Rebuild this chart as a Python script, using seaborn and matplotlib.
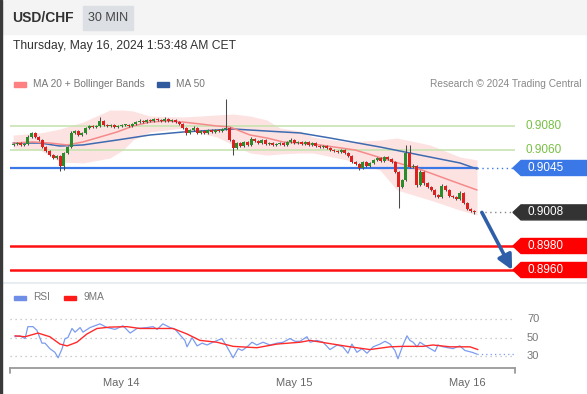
import numpy as np
import pandas as pd
import matplotlib
matplotlib.use("Agg")
import matplotlib.pyplot as plt
from matplotlib.patches import Polygon, Rectangle
from matplotlib.transforms import blended_transform_factory
import seaborn as sns

# ---------------- data ----------------
symbol = "USD/CHF"
timeframe = "30 MIN"
timestamp = "Thursday, May 16, 2024 1:53:48 AM CET"
credit = "Research \u00a9 2024 Trading Central"
day_labels = ["May 14", "May 15", "May 16"]
day_bars = [30, 78, 126]

first_open = 0.90642
closes = [
    0.90650, 0.90658, 0.90642, 0.90650, 0.90708, 0.90742, 0.90708, 0.90683, 0.90625, 0.90592,
    0.90558, 0.90533, 0.90550, 0.90467, 0.90575, 0.90625, 0.90742, 0.90758, 0.90725, 0.90742,
    0.90783, 0.90800, 0.90792, 0.90800, 0.90842, 0.90808, 0.90800, 0.90808, 0.90792, 0.90800,
    0.90808, 0.90808, 0.90800, 0.90817, 0.90833, 0.90842, 0.90833, 0.90850, 0.90842, 0.90858,
    0.90850, 0.90842, 0.90858, 0.90842, 0.90850, 0.90833, 0.90817, 0.90783, 0.90742, 0.90767,
    0.90783, 0.90742, 0.90758, 0.90742, 0.90767, 0.90750, 0.90767, 0.90758, 0.90775, 0.90783,
    0.90683, 0.90617, 0.90658, 0.90633, 0.90667, 0.90642, 0.90692, 0.90675, 0.90658, 0.90683,
    0.90650, 0.90658, 0.90642, 0.90650, 0.90658, 0.90642, 0.90667, 0.90683, 0.90658, 0.90667,
    0.90650, 0.90667, 0.90642, 0.90658, 0.90633, 0.90625, 0.90633, 0.90617, 0.90600, 0.90592,
    0.90583, 0.90600, 0.90575, 0.90550, 0.90500, 0.90483, 0.90450, 0.90500, 0.90467, 0.90492,
    0.90517, 0.90533, 0.90508, 0.90542, 0.90525, 0.90500, 0.90417, 0.90292, 0.90350, 0.90575,
    0.90458, 0.90467, 0.90308, 0.90417, 0.90325, 0.90292, 0.90267, 0.90225, 0.90208, 0.90300,
    0.90267, 0.90217, 0.90208, 0.90192, 0.90242, 0.90158, 0.90108, 0.90092, 0.90080,
]
upper_wick_pips = [
    1.0, 1.0, 1.0, 0.8, 1.5, 1.2, 1.0, 1.0, 0.8, 1.0,
    1.0, 0.8, 1.0, 1.0, 1.0, 1.2, 1.5, 1.0, 1.0, 1.0,
    1.2, 1.0, 1.0, 1.0, 3.0, 1.0, 1.0, 1.0, 1.0, 1.0,
    1.0, 1.0, 1.0, 1.0, 1.0, 1.5, 1.0, 1.0, 1.0, 1.0,
    1.0, 1.0, 1.5, 1.0, 1.0, 1.0, 1.0, 1.0, 1.0, 1.0,
    1.5, 1.0, 1.0, 1.0, 1.0, 1.0, 1.0, 1.0, 1.0, 24.0,
    1.0, 1.0, 1.0, 1.0, 1.0, 1.0, 1.5, 1.0, 1.0, 1.0,
    1.0, 1.0, 1.0, 1.0, 1.0, 1.0, 1.0, 1.5, 1.0, 1.0,
    1.0, 1.0, 1.0, 1.0, 1.0, 1.0, 1.0, 1.0, 1.0, 1.0,
    1.0, 1.0, 1.0, 1.0, 1.0, 1.0, 1.0, 1.0, 1.0, 1.0,
    1.0, 1.0, 1.0, 1.0, 1.0, 1.0, 1.0, 1.0, 1.0, 6.7,
    6.7, 1.5, 1.0, 1.5, 1.0, 1.0, 1.0, 1.0, 1.0, 1.5,
    1.0, 1.0, 1.0, 1.0, 1.5, 1.0, 1.0, 1.0, 1.0,
]
lower_wick_pips = [
    1.0, 1.0, 1.0, 1.0, 1.0, 1.0, 1.0, 1.0, 1.0, 1.0,
    1.0, 1.0, 1.0, 4.0, 3.0, 1.0, 1.0, 1.0, 1.0, 1.0,
    1.0, 1.0, 1.0, 1.0, 1.0, 1.0, 1.0, 1.0, 1.0, 1.0,
    1.0, 1.0, 1.0, 1.0, 1.0, 1.0, 1.0, 1.0, 1.0, 1.0,
    1.0, 1.0, 1.0, 1.0, 1.0, 1.0, 1.0, 1.0, 1.5, 1.0,
    1.0, 1.0, 1.0, 1.0, 1.0, 1.0, 1.0, 1.0, 1.0, 1.0,
    1.0, 6.0, 1.0, 1.0, 1.0, 1.0, 1.0, 1.0, 1.0, 1.0,
    1.0, 1.0, 1.0, 1.0, 1.0, 1.0, 1.0, 1.0, 1.0, 1.0,
    1.0, 1.0, 1.0, 1.0, 1.0, 1.0, 1.0, 1.0, 1.0, 1.0,
    1.0, 1.0, 1.0, 1.0, 1.0, 1.0, 2.0, 1.0, 1.0, 1.0,
    1.0, 1.0, 1.0, 1.0, 1.0, 1.0, 1.0, 17.5, 1.0, 1.0,
    1.0, 1.0, 1.5, 1.0, 1.5, 1.0, 1.0, 1.5, 1.0, 1.0,
    1.0, 1.0, 1.0, 1.0, 1.0, 1.0, 1.0, 1.0, 1.0,
]

ma20_bars = [-0.1, 5.4, 10.1, 14.9, 19.3, 24.0, 28.75, 33.2, 37.9, 42.6, 47.1, 51.8,
             56.5, 60.1, 65.7, 70.4, 74.9, 79.6, 85.1, 94.9, 104.0, 113.5, 122.6, 128.75]
ma20_vals = [0.90658, 0.90667, 0.90658, 0.90642, 0.90667, 0.90708, 0.90750, 0.90800,
             0.90833, 0.90842, 0.90833, 0.90817, 0.90800, 0.90792, 0.90725, 0.90700,
             0.90667, 0.90658, 0.90642, 0.90600, 0.90517, 0.90433, 0.90333, 0.90267]

ma50_bars = [-0.1, 7.4, 12.9, 19.3, 28.75, 37.9, 47.1, 51.8, 61.0, 70.4, 79.6, 87.9,
             101.8, 112.9, 124.0, 128.75]
ma50_vals = [0.90658, 0.90658, 0.90633, 0.90642, 0.90683, 0.90725, 0.90750, 0.90758,
             0.90775, 0.90758, 0.90742, 0.90700, 0.90625, 0.90558, 0.90492, 0.90442]

bb_bars = [-0.1, 7.4, 12.9, 19.3, 26.8, 30.4, 33.2, 37.9, 47.1, 51.8, 56.5, 61.0,
           65.7, 70.4, 74.0, 79.6, 83.2, 92.6, 101.8, 106.5, 115.7, 124.0, 128.75]
bb_upper = [0.90725, 0.90742, 0.90775, 0.90833, 0.90933, 0.90933, 0.90925, 0.90883,
            0.90875, 0.90883, 0.90892, 0.90900, 0.90883, 0.90850, 0.90783, 0.90758,
            0.90708, 0.90667, 0.90683, 0.90700, 0.90642, 0.90542, 0.90517]
bb_lower = [0.90617, 0.90600, 0.90500, 0.90492, 0.90533, 0.90600, 0.90683, 0.90750,
            0.90783, 0.90742, 0.90708, 0.90642, 0.90575, 0.90558, 0.90567, 0.90575,
            0.90575, 0.90517, 0.90433, 0.90267, 0.90183, 0.90100, 0.90058]

resistances = [0.9080, 0.9060]
pivot = 0.9045
last_price = 0.9008
supports = [0.8980, 0.8960]

rsi_bars = [0.4, 1.8, 3.2, 4.0, 5.4, 6.5, 7.9, 8.75, 10.1, 11.5, 12.4, 13.5, 14.3, 15.1,
            16.25, 17.1, 18.5, 19.3, 21.25, 24.0, 26.0, 28.2, 30.4, 32.4, 34.3, 37.1,
            38.75, 39.9, 41.5, 43.5, 44.9, 46.25, 47.6, 48.2, 49.6, 51.0, 52.4, 53.75,
            55.4, 57.9, 59.3, 61.0, 62.4, 63.5, 64.9, 66.25, 67.6, 69.3, 71.25, 73.2,
            74.9, 76.8, 78.2, 79.6, 81.5, 82.4, 84.3, 86.0, 87.9, 89.9, 91.5, 92.9, 94.0,
            95.4, 96.8, 98.2, 99.9, 101.8, 103.2, 104.6, 105.95, 106.8, 108.2, 109.3,
            110.1, 111.0, 112.1, 112.9, 114.9, 117.1, 117.9, 119.3, 120.7, 122.1, 123.2,
            124.0, 125.4, 127.4, 128.75]
rsi_vals = [51, 52, 49, 62, 62, 58, 44, 44, 38, 34, 28, 38, 49, 50,
            60, 56, 61, 56, 61, 65, 61, 59, 63, 55, 60, 61,
            62, 59, 65, 61, 59, 53, 47, 40, 50, 41, 44, 42,
            45, 49, 40, 28, 38, 36, 40, 45, 42, 45, 42, 44,
            45, 49, 46, 46, 51, 45, 47, 45, 37, 42, 40, 33, 43,
            34, 38, 33, 40, 43, 46, 43, 36, 27, 42, 52,
            47, 45, 40, 45, 40, 35, 42, 40, 39, 38, 40,
            41, 36, 34, 32]
rsi_ma_bars = [0.4, 3.2, 6.8, 10.1, 12.9, 14.9, 17.6, 20.4, 23.2, 26.8, 31.5, 35.1,
               39.9, 44.3, 48.2, 51.8, 56.5, 61.0, 67.6, 73.2, 79.6, 82.4, 87.9, 93.5,
               99.0, 104.6, 108.2, 113.75, 116.5, 121.25, 126.8, 129.0]
rsi_ma_vals = [52, 51, 55, 51, 43, 41, 45, 54, 60, 61.5, 62, 60,
               60, 60, 54, 47, 45, 40.5, 39, 43, 45, 47, 43.5, 40,
               37, 40, 40.5, 40.5, 42, 40, 40, 37]
rsi_levels = [70, 50, 30]

# ---------------- layout (pixels) ----------------
W, H = 587, 394
AX_L, AX_R = 10, 515
MAIN_T, MAIN_B = 92, 282
RSI_T, RSI_B = 305, 368
BAR0_PX, BAR_PX = 13.5, 3.6
PRICE_TOP, PRICE_BOT = 0.910833, 0.8950
RSI_TOP, RSI_BOT = 85.6, 16.9

sns.set_style("white")
plt.rcParams["font.family"] = ["Liberation Sans", "DejaVu Sans"]

fig = plt.figure(figsize=(W / 100, H / 100), dpi=100)
fig.patch.set_facecolor("white")


def rect(l, t, r, b):
    return [l / W, 1 - b / H, (r - l) / W, (b - t) / H]


def fx(px):
    return px / W


def fy(py):
    return 1 - py / H


def axfrac(px):
    return (px - AX_L) / (AX_R - AX_L)


xlim = ((AX_L - BAR0_PX) / BAR_PX, (AX_R - BAR0_PX) / BAR_PX)

# header band
fig.patches.append(Rectangle((0, fy(34)), 1, 34 / H, transform=fig.transFigure,
                             color="#f4f4f4", zorder=0))
fig.patches.append(Rectangle((fx(83), fy(30)), 50 / W, 24 / H, transform=fig.transFigure,
                             color="#dcdfe4", zorder=1))
fig.patches.append(Rectangle((0, 0), 2 / W, 1, transform=fig.transFigure,
                             color="#3a3a3a", zorder=5))
fig.text(fx(12), fy(18), symbol, fontsize=10, fontweight="bold", color="#333333",
         va="center", ha="left")
fig.text(fx(108), fy(18), timeframe, fontsize=9, color="#444444", va="center", ha="center")
fig.text(fx(13), fy(46), timestamp, fontsize=8.7, color="#333333", va="center", ha="left")

# legends
fig.patches.append(Rectangle((fx(14), fy(86.5)), 12 / W, 4 / H, transform=fig.transFigure,
                             color="#ff8080"))
fig.text(fx(33), fy(84), "MA 20 + Bollinger Bands", fontsize=7.3, color="#777777", va="center")
fig.patches.append(Rectangle((fx(157), fy(86.5)), 12 / W, 4 / H, transform=fig.transFigure,
                             color="#2f5b9e"))
fig.text(fx(176), fy(84), "MA 50", fontsize=7.3, color="#777777", va="center")
fig.text(fx(581), fy(84), credit, fontsize=7.3, color="#888888", va="center", ha="right")

fig.patches.append(Rectangle((fx(14), fy(299.5)), 12 / W, 4 / H, transform=fig.transFigure,
                             color="#6f8ee8"))
fig.text(fx(33), fy(297), "RSI", fontsize=7.3, color="#777777", va="center")
fig.patches.append(Rectangle((fx(64), fy(299.5)), 12 / W, 4 / H, transform=fig.transFigure,
                             color="#ff1a1a"))
fig.text(fx(83), fy(297), "9MA", fontsize=7.3, color="#777777", va="center")

# separator line
fig.lines.append(plt.Line2D([0, 1], [fy(282.5), fy(282.5)], transform=fig.transFigure,
                            color="#e3eaee", lw=1.2))

# ---------------- main price panel ----------------
ax = fig.add_axes(rect(AX_L, MAIN_T, AX_R, MAIN_B))
ax.set_xlim(*xlim)
ax.set_ylim(PRICE_BOT, PRICE_TOP)
ax.axis("off")
blend = blended_transform_factory(ax.transAxes, ax.transData)

ax.fill_between(bb_bars, bb_lower, bb_upper, color="#fde2e2", lw=0, zorder=1)

for r in resistances:
    ax.axhline(r, color="#c3e2ab", lw=1.1, zorder=2)
for s in supports:
    ax.axhline(s, color="#ff1010", lw=1.8, zorder=2)
last_bar = len(closes) - 1
ax.plot([xlim[0], last_bar + 0.75], [pivot, pivot], color="#3b78e7", lw=1.6, zorder=2)
ax.plot([last_bar + 0.75, xlim[1]], [pivot, pivot], color="#3b78e7", lw=1.0,
        ls=(0, (1, 2.5)), zorder=2)
ax.plot([last_bar + 1.5, xlim[1]], [last_price, last_price], color="#888888", lw=1.0,
        ls=(0, (1, 2.5)), zorder=2)

sns.lineplot(x=ma50_bars, y=ma50_vals, ax=ax, color="#3e6bb0", lw=1.1, zorder=3,
             sort=False, legend=False)
sns.lineplot(x=ma20_bars, y=ma20_vals, ax=ax, color="#f58a8a", lw=1.1, zorder=3,
             sort=False, legend=False)

opens = [first_open] + closes[:-1]
df = pd.DataFrame({"bar": np.arange(len(closes)), "open": opens, "close": closes})
df["high"] = df[["open", "close"]].max(axis=1) + np.array(upper_wick_pips) * 1e-4
df["low"] = df[["open", "close"]].min(axis=1) - np.array(lower_wick_pips) * 1e-4
up = df["close"] >= df["open"]
colors = np.where(up, "#2a8c2a", "#dd2020")
ax.vlines(df["bar"], df["low"], df["high"], color="#4a4a4a", lw=0.75, zorder=4)
body = (df["close"] - df["open"]).abs().clip(lower=0.00005)
ax.bar(df["bar"], body, bottom=df[["open", "close"]].min(axis=1), width=0.8,
       color=colors, lw=0, zorder=5)

ax.annotate("", xy=(138.5, supports[-1]), xytext=(130.1, last_price),
            arrowprops=dict(arrowstyle="-|>", color="#2f5ea8", lw=2.6,
                            mutation_scale=22, shrinkA=0, shrinkB=0),
            zorder=6, annotation_clip=False)

half = 7.5 * (PRICE_TOP - PRICE_BOT) / (MAIN_B - MAIN_T)


def tag(level, color):
    pts = [(axfrac(513), level), (axfrac(521), level + half), (axfrac(592), level + half),
           (axfrac(592), level - half), (axfrac(521), level - half)]
    ax.add_patch(Polygon(pts, closed=True, transform=blend, color=color, clip_on=False,
                         zorder=7))
    ax.text(axfrac(527), level, f"{level:.4f}", transform=blend, color="white",
            fontsize=8.5, va="center", ha="left", clip_on=False, zorder=8)


for r in resistances:
    ax.text(axfrac(525), r, f"{r:.4f}", transform=blend, color="#78c044", fontsize=8.5,
            va="center", ha="left", clip_on=False)
tag(pivot, "#3b78e7")
tag(last_price, "#333333")
for s in supports:
    tag(s, "#ff0000")

# ---------------- RSI panel ----------------
rax = fig.add_axes(rect(AX_L, RSI_T, AX_R, RSI_B))
rax.set_xlim(*xlim)
rax.set_ylim(RSI_BOT, RSI_TOP)
for sp in ["top", "left", "right"]:
    rax.spines[sp].set_visible(False)
rax.spines["bottom"].set_color("#9a9a9a")
rax.spines["bottom"].set_linewidth(1.3)
rax.set_yticks([])
rax.set_xticks(day_bars)
rax.set_xticklabels(day_labels, fontsize=8, color="#666666")
rax.tick_params(axis="x", length=0, pad=7)
rblend = blended_transform_factory(rax.transAxes, rax.transData)
for lv in rsi_levels:
    rax.axhline(lv, color="#bdbdbd", lw=0.9, ls=(0, (1, 3)), zorder=1)
    rax.text(axfrac(527), lv, str(lv), transform=rblend, color="#777777", fontsize=8,
             va="center", ha="left", clip_on=False)
for xe in [0.0, 1.0]:
    rax.plot([xe, xe], [0, -0.08], transform=rax.transAxes, color="#9a9a9a", lw=1.3,
             clip_on=False)

sns.lineplot(x=rsi_bars, y=rsi_vals, ax=rax, color="#7c9cf0", lw=0.9, zorder=3,
             sort=False, legend=False)
sns.lineplot(x=rsi_ma_bars, y=rsi_ma_vals, ax=rax, color="#ff2a2a", lw=1.0, zorder=4,
             sort=False, legend=False)
rax.plot([rsi_bars[-1], xlim[1]], [rsi_vals[-1], rsi_vals[-1]], color="#7c9cf0", lw=0.9,
         ls=(0, (1, 2.5)), zorder=3)
rax.set_xlabel("")
rax.set_ylabel("")

fig.savefig("out.png", dpi=100)
